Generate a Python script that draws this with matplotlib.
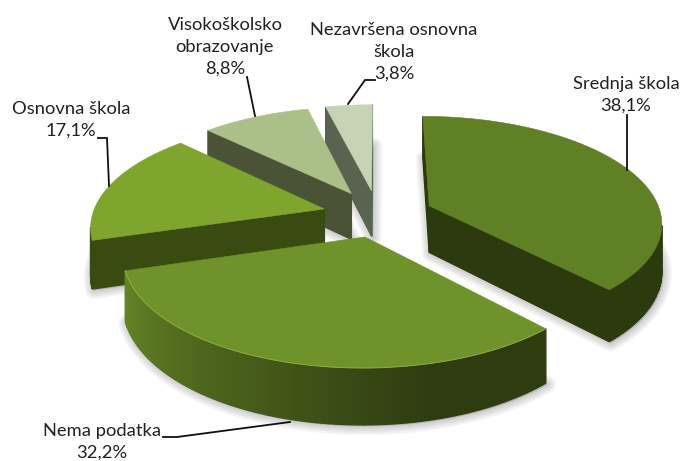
import numpy as np
import matplotlib.pyplot as plt
from matplotlib.colors import to_rgb
from matplotlib.patches import Polygon

plt.rcParams['font.family'] = ['Lato', 'DejaVu Sans']

# Chart data, in the order of the slices going clockwise from the top
categories = ['Srednja škola', 'Nema podatka', 'Osnovna škola',
              'Visokoškolsko\nobrazovanje', 'Nezavršena osnovna\nškola']
values = [38.1, 32.2, 17.1, 8.8, 3.8]
value_labels = ['38,1%', '32,2%', '17,1%', '8,8%', '3,8%']
top_colors = ['#5f8025', '#6f932a', '#7fa52e', '#abbf88', '#c6d3b4']
side_colors = ['#2c3a0d', '#2e3c10', '#3a4b12', '#4a5336', '#5a6350']
explode = [0.24, 0.21, 0.24, 0.24, 0.24]
draw_order = [4, 3, 2, 0, 1]

label_pos = [(626, 94.5), (102, 442), (71, 120), (225, 47), (394, 52)]
leaders = [
    [(627, 115), (627, 170)],
    [(163, 437), (177, 437), (290, 422)],
    [(98, 138), (107, 138), (109, 186)],
    [(247, 77), (255, 116)],
    [(375, 80), (365, 80), (348, 104)],
]

# Projection of the tilted pie onto the picture, in pixels
cx, cy = 378, 215
radius_x, radius_y = 232, 105
persp = 0.145
depth = 47


def project(x, y):
    s = 1 / (1 + persp * y)
    return cx + radius_x * x * s, cy - radius_y * y * s, s


def mix(color, other, t):
    a, b = np.array(to_rgb(color)), np.array(to_rgb(other))
    return tuple(a + (b - a) * t)


def signed_area(pts):
    x, y = np.array(pts).T
    return 0.5 * np.sum(x * np.roll(y, -1) - np.roll(x, -1) * y)


fig = plt.figure(figsize=(6.85, 4.61), dpi=100)
ax = fig.add_axes([0, 0, 1, 1])
ax.set_xlim(0, 685)
ax.set_ylim(461, 0)
ax.axis('off')

edges = np.cumsum([0] + values) / np.sum(values) * 2 * np.pi

# Build each slice outline once, so the shadows can all go underneath
slices = []
for i in range(len(values)):
    a0, a1 = edges[i], edges[i + 1]
    mid = (a0 + a1) / 2
    ox, oy = explode[i] * np.sin(mid), explode[i] * np.cos(mid)
    angles = np.linspace(a0, a1, 80)
    wx = np.r_[ox, ox + np.sin(angles)]
    wy = np.r_[oy, oy + np.cos(angles)]
    sx, sy, s = project(wx, wy)
    slices.append((angles, sx, sy, s))

for i in draw_order:
    angles, sx, sy, s = slices[i]
    bottom = np.c_[sx + 1.5, sy + depth * s + 1.5]
    for lw in [12, 9, 6, 3]:
        ax.add_patch(Polygon(bottom, closed=True, fc='#555555', ec='#555555',
                             lw=lw, alpha=0.07, joinstyle='round', zorder=1))

for n, i in enumerate(draw_order):
    angles, sx, sy, s = slices[i]
    z = 2 + n
    top = np.c_[sx, sy]
    low = np.c_[sx, sy + depth * s]
    count = len(sx)
    orient = np.sign(signed_area(top))
    # Side walls, back ones are dropped by their winding
    for j in range(count):
        k = (j + 1) % count
        face = [top[j], top[k], low[k], low[j]]
        if np.sign(signed_area(face)) == orient:
            continue
        color = side_colors[i]
        # only the front slice catches light along its rim
        if i == 1 and 0 < j < count - 1:
            deg = np.degrees(angles[j - 1])
            lit = np.clip((deg - 165) / 88, 0, 1)
            color = mix(side_colors[i], top_colors[i], lit * 0.85)
        ax.add_patch(Polygon(face, closed=True, fc=color, ec=color, lw=1.0,
                             joinstyle='bevel', zorder=z))
    ax.add_patch(Polygon(top, closed=True, fc=top_colors[i], ec=top_colors[i],
                         lw=0.4, zorder=z + 0.5))
    if i == 1:
        ax.plot(sx[1:], sy[1:], color='#8cae3e', lw=0.7, zorder=z + 0.6)

for pts in leaders:
    x, y = zip(*pts)
    ax.plot(x, y, color='#111111', lw=1.3, solid_joinstyle='miter', zorder=20)

for name, val, pos in zip(categories, value_labels, label_pos):
    ax.text(pos[0], pos[1], name + '\n' + val, ha='center', va='center',
            fontsize=13.2, color='#222222', linespacing=1.44, zorder=21)

plt.savefig('out.png', dpi=100)
